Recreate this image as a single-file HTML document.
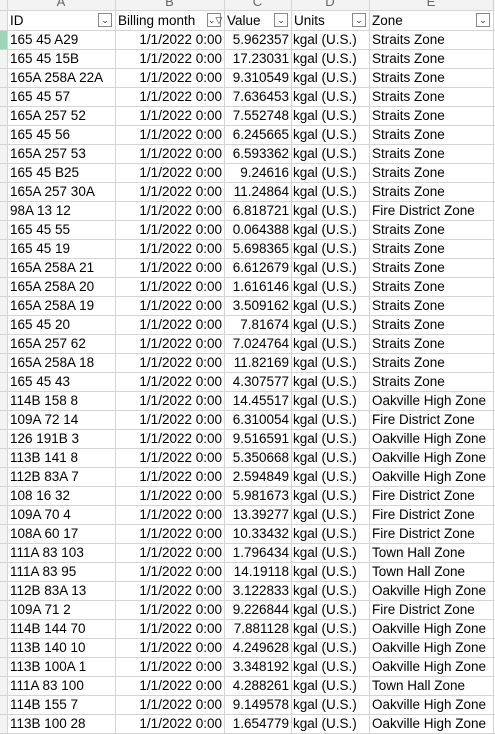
<!DOCTYPE html>
<html><head><meta charset="utf-8">
<style>
body{margin:0;width:495px;height:734px;overflow:hidden;background:#fff;font-family:"Liberation Sans",sans-serif;font-size:13.5px;color:#000;position:relative}
.vl{position:absolute;top:0;width:1px;height:734px;background:#d4d4d4}
.hl{position:absolute;left:0;width:495px;height:1px;background:#d4d4d4}
.c{position:absolute;height:19px;line-height:19px;white-space:nowrap;overflow:hidden}
.r{text-align:right}
.letter{position:absolute;top:-6px;height:16px;line-height:16px;text-align:center;color:#666;font-size:13px}
.dd{position:absolute;top:13px;width:14px;height:14px;border:1px solid #888;background:#fff;box-sizing:border-box;font-size:9px;line-height:12px;text-align:center;color:#333}
</style></head><body>
<div style="position:absolute;left:0;top:0;width:495px;height:10px;background:#f3f3f3"></div>
<div style="position:absolute;left:0;top:0;width:7px;height:734px;background:#f3f3f3"></div>
<div style="position:absolute;left:0;top:30px;width:7px;height:19px;background:#9fd5b7"></div>
<div id="grid"></div>
<script>
const ids=["165 45 A29","165 45 15B","165A 258A 22A","165 45 57","165A 257 52","165 45 56","165A 257 53","165 45 B25","165A 257 30A","98A 13 12","165 45 55","165 45 19","165A 258A 21","165A 258A 20","165A 258A 19","165 45 20","165A 257 62","165A 258A 18","165 45 43","114B 158 8","109A 72 14","126 191B 3","113B 141 8","112B 83A 7","108 16 32","109A 70 4","108A 60 17","111A 83 103","111A 83 95","112B 83A 13","109A 71 2","114B 144 70","113B 140 10","113B 100A 1","111A 83 100","114B 155 7","113B 100 28"];
const values=["5.962357","17.23031","9.310549","7.636453","7.552748","6.245665","6.593362","9.24616","11.24864","6.818721","0.064388","5.698365","6.612679","1.616146","3.509162","7.81674","7.024764","11.82169","4.307577","14.45517","6.310054","9.516591","5.350668","2.594849","5.981673","13.39277","10.33432","1.796434","14.19118","3.122833","9.226844","7.881128","4.249628","3.348192","4.288261","9.149578","1.654779"];
const S="Straits Zone",F="Fire District Zone",O="Oakville High Zone",T="Town Hall Zone";
const zones=[S,S,S,S,S,S,S,S,S,F,S,S,S,S,S,S,S,S,S,O,F,O,O,O,F,F,F,T,T,O,F,O,O,O,T,O,O];
const cols=[7,115,224,291,369,493];
const g=document.getElementById('grid');
function add(cls,style,text){const d=document.createElement('div');d.className=cls;d.style.cssText=style;if(text!==undefined)d.textContent=text;g.appendChild(d);return d;}
cols.forEach(x=>{const v=add('vl','left:'+x+'px');});
["A","B","C","D","E"].forEach((L,i)=>{const d=add('letter','left:'+cols[i]+'px;width:'+(cols[i+1]-cols[i])+'px',L);});
for(let i=0;i<=38;i++){const y=i===0?10:11+i*19;const h=add('hl','top:'+y+'px');}
const heads=["ID","Billing month","Value","Units","Zone"];
heads.forEach((t,i)=>{const d=add('c','left:'+(cols[i]+3)+'px;top:11px;width:'+(cols[i+1]-cols[i]-20)+'px',t);
const b=add('dd','left:'+(cols[i+1]-17)+'px',i===1?'⌄▽':'⌄');});
ids.forEach((id,r)=>{const y=30+r*19;
let d=add('c','left:10px;top:'+y+'px;width:104px',id);
d=add('c r','left:116px;top:'+y+'px;width:106px','1/1/2022 0:00');
d=add('c r','left:225px;top:'+y+'px;width:64px',values[r]);
d=add('c','left:293px;top:'+y+'px;width:75px','kgal (U.S.)');
d=add('c','left:372px;top:'+y+'px;width:120px',zones[r]);});
</script>
</body></html>
